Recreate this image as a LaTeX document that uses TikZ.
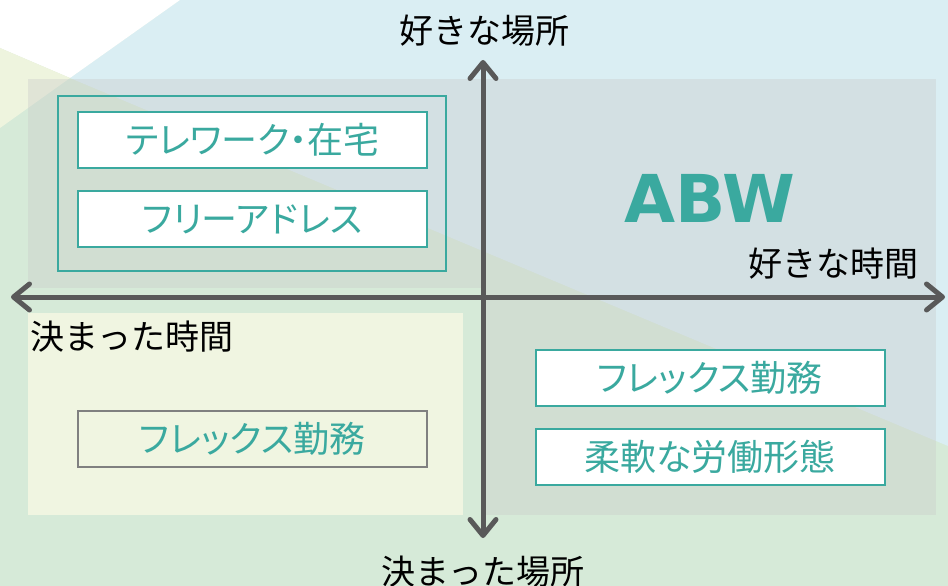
\documentclass[tikz,border=0pt]{standalone}
\usepackage{fontspec}
\newfontfamily\jp{Noto Sans CJK JP}
\newfontfamily\jpp{Noto Sans CJK JP}[RawFeature=+palt]
\newfontfamily\abwfont{DejaVu Sans}
\usetikzlibrary{arrows.meta}
\definecolor{abwteal}{HTML}{3AA99F}
\definecolor{bggreen}{HTML}{D6EAD8}
\definecolor{bgblue}{HTML}{DAEEF3}
\definecolor{bgyellow}{HTML}{EEF4DE}
\definecolor{quadyellow}{HTML}{F0F5E1}
\definecolor{overgray}{HTML}{C8C8C8}
\definecolor{axisgray}{HTML}{595959}
\definecolor{boxgray}{HTML}{808080}
\tikzset{
  box/.style={draw=abwteal, line width=2pt, fill=white, minimum width=349pt, minimum height=56pt,
    text=abwteal, font=\jpp\fontsize{36}{40}\selectfont, inner sep=0pt},
  greybox/.style={box, draw=boxgray, fill=none},
  axislabel/.style={text=black, font=\jp\fontsize{34}{38}\selectfont, inner sep=0pt},
  axisline/.style={draw=axisgray, line width=5pt, line cap=round, line join=round,
    {Straight Barb[length=16pt,width=26pt,line cap=round,line join=round]}-{Straight Barb[length=16pt,width=26pt,line cap=round,line join=round]}},
  frame/.style={draw=abwteal, line width=2pt},
  overlay/.style={fill=overgray, fill opacity=0.35}
}
\begin{document}
\begin{tikzpicture}[x=1pt,y=-1pt]
\useasboundingbox (0,0) rectangle (948,586);
% background
\fill[bggreen] (0,0) rectangle (948,586);
\fill[bgblue] (180,0) -- (948,0) -- (948,446) -- (70,78) -- cycle;
\fill[white] (0,0) -- (180,0) -- (70,78) -- (0,48) -- cycle;
\fill[bgyellow] (0,48) -- (70,78) -- (0,128) -- cycle;
% quadrant panels
\fill[overlay] (28,79) rectangle (483,288);
\fill[overlay] (483,79) rectangle (936,515);
\fill[quadyellow] (28,313) rectangle (463,515);
% frame around upper-left boxes
\draw[frame] (58,96) rectangle (446,271);
% boxes
\node[box] (tele) at (252.5,140) {テレワーク・在宅};
\node[box] (free) at (252.5,219) {フリーアドレス};
\node[greybox] (flexL) at (252.5,439) {フレックス勤務};
\node[box] (flexR) at (710,377.5) {フレックス勤務};
\node[box] (flexible) at (710,457) {柔軟な労働形態};
% ABW
\node[text=abwteal, font=\abwfont\bfseries\fontsize{66}{70}\selectfont, inner sep=0pt] (abw) at (710,198) {ABW};
% axes
\coordinate (vtop) at (483,60);
\coordinate (vbot) at (483,538);
\coordinate (hleft) at (11,297);
\coordinate (hright) at (945,297);
\draw[axisline] (vbot) -- (vtop);
\draw[axisline] (hleft) -- (hright);
% axis labels
\node[axislabel] (ltop) at (484,31) {好きな場所};
\node[axislabel] (lbot) at (483,572) {決まった場所};
\node[axislabel] (lright) at (833,264) {好きな時間};
\node[axislabel] (lleft) at (132,337) {決まった時間};
\end{tikzpicture}
\end{document}
